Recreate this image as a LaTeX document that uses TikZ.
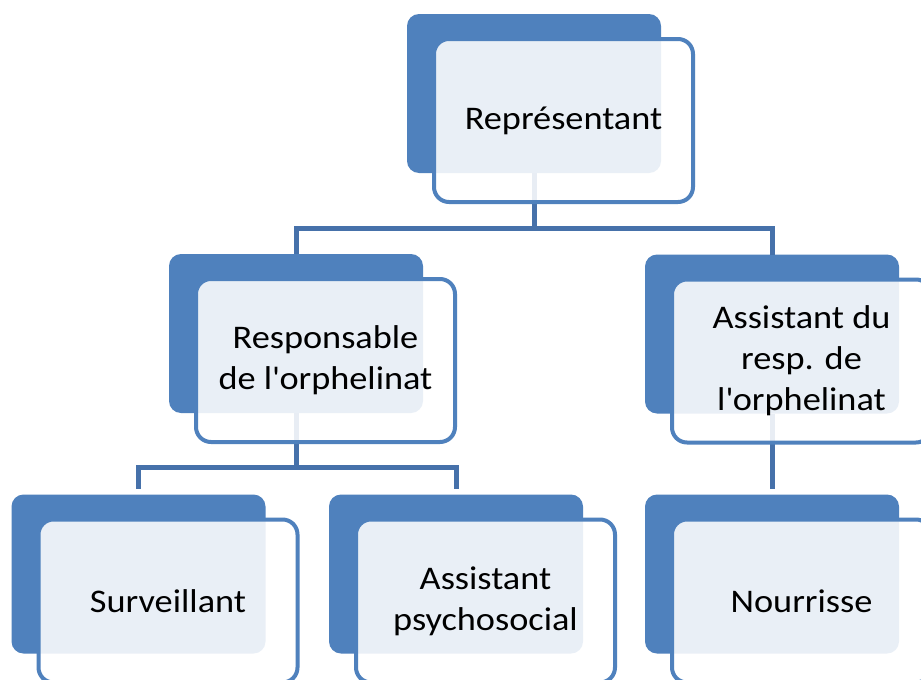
\documentclass[tikz,border=0pt]{standalone}
\usepackage{fontspec}
\setmainfont{Carlito}[FakeStretch=1.1]
\definecolor{boxblue}{RGB}{79,129,189}
\definecolor{linkblue}{RGB}{70,113,170}

\begin{document}
\begin{tikzpicture}[x=1pt,y=-1pt]
\tikzstyle{back}=[rectangle,rounded corners=12pt,fill=boxblue,
inner sep=0pt,outer sep=0pt,minimum width=254pt,minimum height=159pt]
\tikzstyle{front}=[rectangle,rounded corners=15pt,draw=boxblue,line width=4pt,
fill=white,fill opacity=0.88,text opacity=1,inner sep=0pt,outer sep=0pt,
minimum width=259pt,minimum height=163pt,align=center,
font=\fontsize{33}{41}\selectfont,xshift=29.5pt,yshift=-27pt]
\tikzstyle{link}=[draw=linkblue,line width=5pt]

\fill[white] (0,0) rectangle (921,680);
\useasboundingbox (0,0) rectangle (921,680);

\node[back] at (534,93.5)	(rep-bg) {};
\node[back] at (296,333.5) (resp-bg) {};
\node[back] at (772,334) (asst-bg) {};
\node[back] at (138.5,574) (surv-bg) {};
\node[back] at (456,574) (psy-bg) {};
\node[back] at (772,574) (nour-bg) {};

\draw[link] (rep-bg.south) -- ++(0,55) coordinate (j1) -| (resp-bg.north);
\draw[link] (j1) -| (asst-bg.north);
\draw[link,shorten >=6pt] (resp-bg.south) -- ++(0,54) coordinate (j2) -| (surv-bg.north);
\draw[link,shorten >=6pt] (j2) -| (psy-bg.north);
\draw[link,shorten >=6pt] (asst-bg.south) -- (nour-bg.north);

\node[front] at (rep-bg) (rep) {Représentant};
\node[front] at (resp-bg) (resp) {Responsable\\de l\textquotesingle orphelinat};
\node[front] at (asst-bg) (asst) {Assistant du\\resp. de\\l\textquotesingle orphelinat};
\node[front] at (surv-bg) (surv) {Surveillant};
\node[front] at (psy-bg) (psy) {Assistant\\psychosocial};
\node[front] at (nour-bg) (nour) {Nourrisse};

\end{tikzpicture}
\end{document}
